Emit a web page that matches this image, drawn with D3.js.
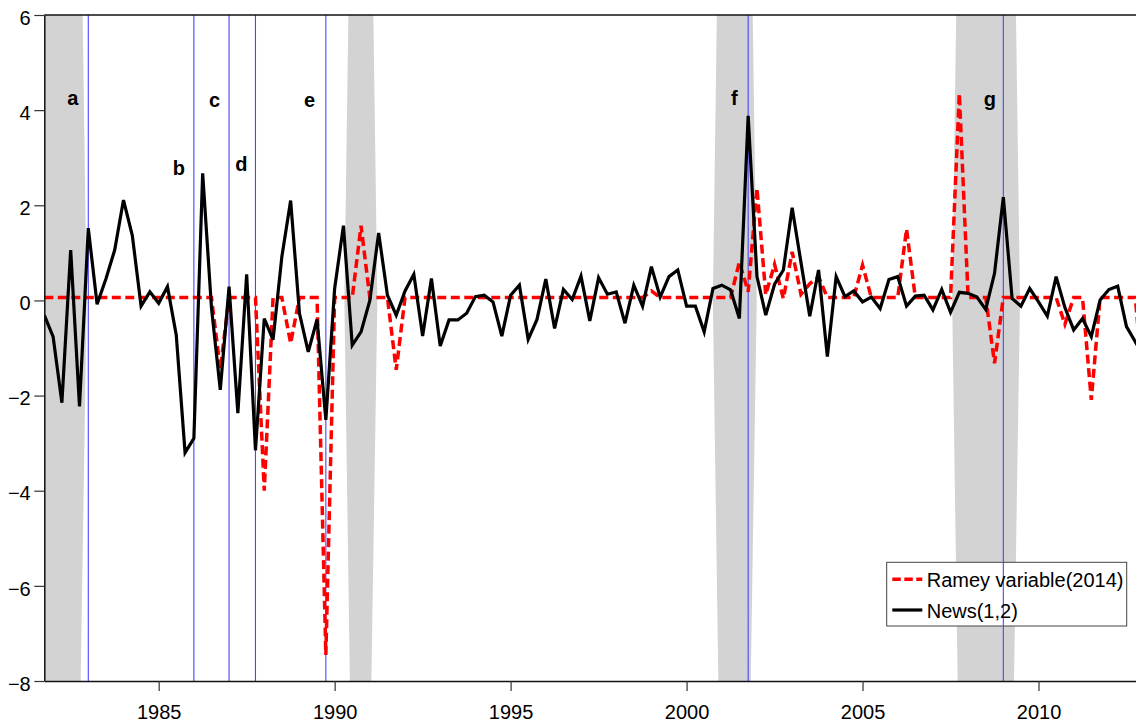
<!DOCTYPE html>
<html>
<head>
<meta charset="utf-8">
<script src="https://cdn.jsdelivr.net/npm/d3@7"></script>
<style>
  body { margin: 0; background: #fff; }
  svg { display: block; }
  text { font-family: "Liberation Sans", Arial, Helvetica, sans-serif; }
</style>
</head>
<body>
<svg id="chart" width="1136" height="724"></svg>
<script>
// Quarterly dates, 1981Q4 onwards
const quarters = d3.range(126).map(i => 1981.75 + i * 0.25);

// News(1,2) shock series
const newsSeries = [
  -0.31, -0.76, -2.15, 1.06, -2.23, 1.52, -0.08, 0.45, 1.06, 2.11,
  1.37, -0.12, 0.18, -0.06, 0.29, -0.73, -3.20, -2.90, 2.67, -0.15,
  -1.88, 0.29, -2.37, 0.55, -3.15, -0.38, -0.83, 0.92, 2.10, -0.27,
  -1.08, -0.40, -2.51, 0.25, 1.57, -0.94, -0.66, 0.00, 1.42, 0.11,
  -0.31, 0.20, 0.55, -0.75, 0.46, -0.96, -0.41, -0.41, -0.27, 0.08,
  0.11, -0.03, -0.75, 0.11, 0.32, -0.82, -0.40, 0.45, -0.59, 0.23,
  0.02, 0.51, -0.43, 0.48, 0.13, 0.18, -0.48, 0.32, -0.12, 0.71,
  0.07, 0.50, 0.64, -0.12, -0.12, -0.66, 0.25, 0.32, 0.22, -0.38,
  3.88, 0.50, -0.31, 0.34, 0.64, 1.95, 0.80, -0.33, 0.64, -1.18,
  0.50, 0.08, 0.20, -0.03, 0.07, -0.17, 0.44, 0.50, -0.12, 0.09,
  0.11, -0.20, 0.23, -0.25, 0.17, 0.15, 0.07, -0.19, 0.57, 2.17,
  0.04, -0.12, 0.25, -0.03, -0.33, 0.50, -0.15, -0.62, -0.38, -0.76,
  0.01, 0.23, 0.30, -0.55, -0.87, -1.20
];

// Ramey (2014) defence news variable
const rameySeries = [
  0.06, 0.06, 0.06, 0.06, 0.06, 0.06, 0.06, 0.06, 0.06, 0.06,
  0.06, 0.06, 0.06, 0.06, 0.06, 0.06, 0.06, 0.06, 0.06, 0.06,
  -1.45, 0.06, 0.06, 0.06, 0.06, -4.00, 0.06, 0.06, -0.90, 0.06,
  0.06, 0.06, -7.45, 0.06, 0.06, 0.06, 1.57, 0.06, 0.06, 0.06,
  -1.46, 0.06, 0.06, 0.06, 0.06, 0.06, 0.06, 0.06, 0.06, 0.06,
  0.06, 0.06, 0.06, 0.06, 0.06, 0.06, 0.06, 0.06, 0.06, 0.06,
  0.06, 0.06, 0.06, 0.06, 0.06, 0.06, 0.06, 0.06, 0.06, 0.20,
  0.06, 0.06, 0.06, 0.06, 0.06, 0.06, 0.06, 0.06, 0.06, 0.81,
  0.18, 2.36, 0.12, 0.76, 0.04, 1.02, 0.13, 0.35, 0.50, 0.06,
  0.06, 0.06, 0.06, 0.74, 0.06, 0.06, 0.06, 0.06, 1.50, 0.06,
  0.06, 0.06, 0.06, 0.06, 4.35, 0.06, 0.06, 0.06, -1.32, 0.06,
  0.06, 0.06, 0.06, 0.06, 0.06, 0.06, -0.50, 0.06, 0.06, -2.09,
  0.06, 0.06, 0.06, 0.06, 0.06, -2.00
];

// Recession periods (start, end)
const recessionStart = [1981.50, 1990.39, 2000.86, 2007.66];
const recessionEnd   = [1982.84, 1991.10, 2001.88, 2009.36];

// Event dates marked with vertical lines, and their letters
const eventDates  = [1983.00, 1986.00, 1987.00, 1987.75, 1989.75, 2001.75, 2009.00];
const eventLetters = ["a", "b", "c", "d", "e", "f", "g"];
const letterX = [1982.56, 1985.57, 1986.59, 1987.35, 1989.29, 2001.36, 2008.62];
const letterY = [4.11, 2.64, 4.07, 2.73, 4.07, 4.11, 4.09];

const xTicks = [1985, 1990, 1995, 2000, 2005, 2010];
const yTicks = [-8, -6, -4, -2, 0, 2, 4, 6];
const seriesNames = ["Ramey variable(2014)", "News(1,2)"];

// ---- layout ----
const svg = d3.select("#chart");
const W = 1136, H = 724;
const plotLeft = 44.3, plotRight = 1136, plotTop = 15, plotBottom = 681;

const x = d3.scaleLinear().domain([1981.75, 2012.77]).range([plotLeft, plotRight]);
const y = d3.scaleLinear().domain([-8, 6]).range([plotBottom, plotTop]);

svg.append("rect").attr("width", W).attr("height", H).attr("fill", "#fff");

svg.append("defs").append("clipPath").attr("id", "plotClip")
  .append("rect").attr("x", plotLeft).attr("y", plotTop)
  .attr("width", plotRight - plotLeft).attr("height", plotBottom - plotTop);

const plot = svg.append("g").attr("clip-path", "url(#plotClip)");

// recession shading
const bands = recessionStart.map((s, i) => ({ s, e: recessionEnd[i] }));
plot.selectAll("polygon.band").data(bands).join("polygon")
  .attr("class", "band")
  .attr("fill", "#d3d3d3")
  .attr("points", d => {
    const x0 = x(d.s), x1 = x(d.e);
    return [
      [x0, y(6)], [x1, y(6)], [x1 + 4, y(0)], [x1 - 2, y(-8)],
      [x0 + 1.5, y(-8)], [x0 - 4, y(0)]
    ].map(p => p.join(",")).join(" ");
  });

const rameyData = quarters.map((q, i) => [q, rameySeries[i]]);
const newsData = quarters.map((q, i) => [q, newsSeries[i]]);
const line = d3.line().x(d => x(d[0])).y(d => y(d[1]));

// legend box (the event lines run across it)
const lg = svg.append("g");
lg.append("rect")
  .attr("x", 886.7).attr("y", 562.3).attr("width", 240).attr("height", 63.7)
  .attr("fill", "#fff").attr("stroke", "#444").attr("stroke-width", 1);

// event lines
svg.append("g").attr("clip-path", "url(#plotClip)")
  .selectAll("line.event").data(eventDates).join("line")
  .attr("class", "event")
  .attr("x1", d => x(d)).attr("x2", d => x(d))
  .attr("y1", plotTop).attr("y2", plotBottom)
  .attr("stroke", "#4646ff").attr("stroke-width", 1.1);

const lines = svg.append("g").attr("clip-path", "url(#plotClip)");
lines.append("path").datum(rameyData)
  .attr("d", line).attr("fill", "none")
  .attr("stroke", "#ff0000").attr("stroke-width", 3.5)
  .attr("stroke-dasharray", "9,4.5");

lines.append("path").datum(newsData)
  .attr("d", line).attr("fill", "none")
  .attr("stroke", "#000").attr("stroke-width", 3.2);

// event letters
svg.selectAll("text.event").data(eventLetters).join("text")
  .attr("class", "event")
  .attr("x", (d, i) => x(letterX[i]))
  .attr("y", (d, i) => y(letterY[i]))
  .attr("text-anchor", "middle")
  .attr("font-size", 20).attr("font-weight", "bold")
  .attr("fill", "#000")
  .text(d => d);

// legend contents
const lgItems = svg.append("g");
lgItems.append("line").attr("x1", 892.3).attr("x2", 922.3).attr("y1", 579.3).attr("y2", 579.3)
  .attr("stroke", "#ff0000").attr("stroke-width", 3.5).attr("stroke-dasharray", "8.5,3.5");
lgItems.append("line").attr("x1", 892.3).attr("x2", 922.3).attr("y1", 610).attr("y2", 610)
  .attr("stroke", "#000").attr("stroke-width", 3.2);
lgItems.append("text").attr("x", 926.7).attr("y", 587.3).attr("font-size", 20).text(seriesNames[0]);
lgItems.append("text").attr("x", 926.7).attr("y", 618.3).attr("font-size", 20).text(seriesNames[1]);

// axes
const xAxis = d3.axisBottom(x).tickValues(xTicks).tickSize(10).tickSizeOuter(0)
  .tickFormat(d3.format("d"));
const gx = svg.append("g").attr("transform", `translate(0,${plotBottom})`).call(xAxis);
gx.select(".domain").attr("stroke", "#111").attr("stroke-width", 1.5);
gx.selectAll(".tick line").attr("stroke", "#333").attr("stroke-width", 1.2);
gx.selectAll(".tick text").attr("font-size", 20).attr("fill", "#000")
  .attr("font-family", "Liberation Sans, Arial, sans-serif")
  .attr("y", 24).attr("dy", "0.71em");

const yAxis = d3.axisLeft(y).tickValues(yTicks).tickSize(10).tickSizeOuter(0).tickPadding(3.6);
const gy = svg.append("g").attr("transform", `translate(${plotLeft},0)`).call(yAxis);
gy.select(".domain").attr("stroke", "#111").attr("stroke-width", 1.5);
gy.selectAll(".tick line").attr("stroke", "#333").attr("stroke-width", 1.2);
gy.selectAll(".tick text").attr("font-size", 20).attr("fill", "#000")
  .attr("font-family", "Liberation Sans, Arial, sans-serif")
  .attr("dy", "0.46em");

// top frame line
svg.append("line").attr("x1", plotLeft).attr("x2", plotRight).attr("y1", plotTop).attr("y2", plotTop)
  .attr("stroke", "#111").attr("stroke-width", 1.5);
</script>
</body>
</html>
